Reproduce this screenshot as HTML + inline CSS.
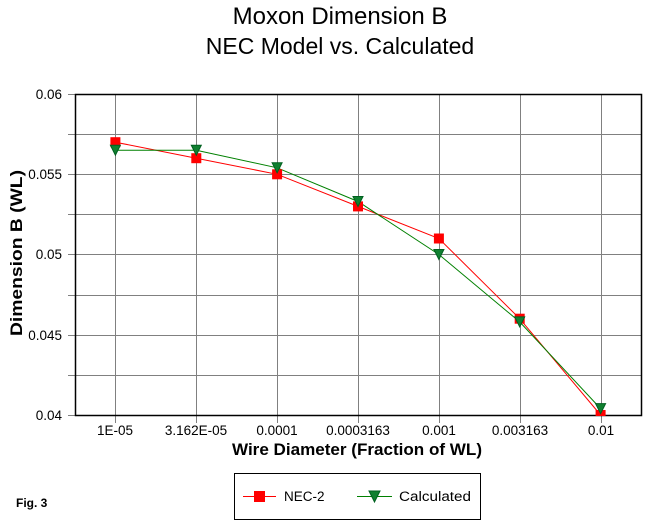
<!DOCTYPE html>
<html><head><style>body{margin:0;background:#fff}svg{display:block}</style></head><body>
<svg width="646" height="524" xmlns="http://www.w3.org/2000/svg" font-family="Liberation Sans, Arial, sans-serif">
<rect width="646" height="524" fill="#fff"/>
<text x="340" y="24" font-size="24" text-anchor="middle">Moxon Dimension B</text>
<text x="340" y="54" font-size="23" text-anchor="middle">NEC Model vs. Calculated</text>
<g stroke="#808080" stroke-width="1">
<line x1="68" y1="94.5" x2="641" y2="94.5"/>
<line x1="68" y1="134.5" x2="641" y2="134.5"/>
<line x1="68" y1="174.5" x2="641" y2="174.5"/>
<line x1="68" y1="214.5" x2="641" y2="214.5"/>
<line x1="68" y1="254.5" x2="641" y2="254.5"/>
<line x1="68" y1="295.5" x2="641" y2="295.5"/>
<line x1="68" y1="335.5" x2="641" y2="335.5"/>
<line x1="68" y1="375.5" x2="641" y2="375.5"/>
<line x1="68" y1="415.5" x2="75" y2="415.5"/>
<line x1="115.5" y1="94" x2="115.5" y2="423"/>
<line x1="196.5" y1="94" x2="196.5" y2="423"/>
<line x1="277.5" y1="94" x2="277.5" y2="423"/>
<line x1="358.5" y1="94" x2="358.5" y2="423"/>
<line x1="439.5" y1="94" x2="439.5" y2="423"/>
<line x1="520.5" y1="94" x2="520.5" y2="423"/>
<line x1="601.5" y1="94" x2="601.5" y2="423"/>
</g>
<rect x="75.5" y="94.5" width="566" height="321" fill="none" stroke="#000" stroke-width="1.5"/>
<g font-size="13.5" text-anchor="end">
<text x="62" y="99">0.06</text><text x="62" y="179">0.055</text><text x="62" y="259">0.05</text>
<text x="62" y="340">0.045</text><text x="62" y="420">0.04</text>
</g>
<g font-size="13.5" text-anchor="middle">
<text x="115" y="435">1E-05</text><text x="196" y="435">3.162E-05</text><text x="277" y="435">0.0001</text>
<text x="358" y="435">0.0003163</text><text x="439" y="435">0.001</text><text x="520" y="435">0.003163</text><text x="601" y="435">0.01</text>
</g>
<text x="232" y="455" font-size="17" font-weight="bold" textLength="250" lengthAdjust="spacingAndGlyphs">Wire Diameter (Fraction of WL)</text>
<text transform="translate(22,336) rotate(-90)" font-size="17" font-weight="bold" textLength="166" lengthAdjust="spacingAndGlyphs">Dimension B (WL)</text>
<polyline fill="none" stroke="#ff0000" stroke-width="1" points="115.4,142.2 196.3,158.2 277.1,174.3 358,206.4 438.9,238.5 519.7,318.7 600.6,415"/>
<polyline fill="none" stroke="#008000" stroke-width="1" points="115.4,150.2 196.3,150.2 277.1,167.8 358,201.5 438.9,254.5 519.7,321.9 600.6,408.6"/>
<g fill="#ff0000">
<rect x="110.4" y="137.2" width="10" height="10"/><rect x="191.3" y="153.2" width="10" height="10"/>
<rect x="272.1" y="169.3" width="10" height="10"/><rect x="353" y="201.4" width="10" height="10"/>
<rect x="433.9" y="233.5" width="10" height="10"/><rect x="514.7" y="313.7" width="10" height="10"/>
<rect x="595.6" y="410" width="10" height="6"/>
</g>
<g fill="#108030" stroke="#006020" stroke-width="1">
<polygon points="110.4,145.2 120.4,145.2 115.4,155.2"/><polygon points="191.3,145.2 201.3,145.2 196.3,155.2"/>
<polygon points="272.1,162.8 282.1,162.8 277.1,172.8"/><polygon points="353,196.5 363,196.5 358,206.5"/>
<polygon points="433.9,249.5 443.9,249.5 438.9,259.5"/><polygon points="514.7,316.9 524.7,316.9 519.7,326.9"/>
<polygon points="595.6,403.6 605.6,403.6 600.6,413.6"/>
</g>
<text x="16" y="507" font-size="12" font-weight="bold">Fig. 3</text>
<rect x="234.5" y="473.5" width="246" height="46" fill="none" stroke="#000" stroke-width="1"/>
<line x1="243" y1="496.5" x2="276" y2="496.5" stroke="#ff0000"/>
<rect x="254" y="491" width="11" height="11" fill="#ff0000"/>
<text x="284" y="501" font-size="13.5">NEC-2</text>
<line x1="357" y1="496.5" x2="392" y2="496.5" stroke="#008000"/>
<polygon points="369,491 380,491 374.5,502" fill="#108030" stroke="#006020"/>
<text x="399" y="501" font-size="13.5" textLength="72" lengthAdjust="spacingAndGlyphs">Calculated</text>
</svg>
</body></html>
